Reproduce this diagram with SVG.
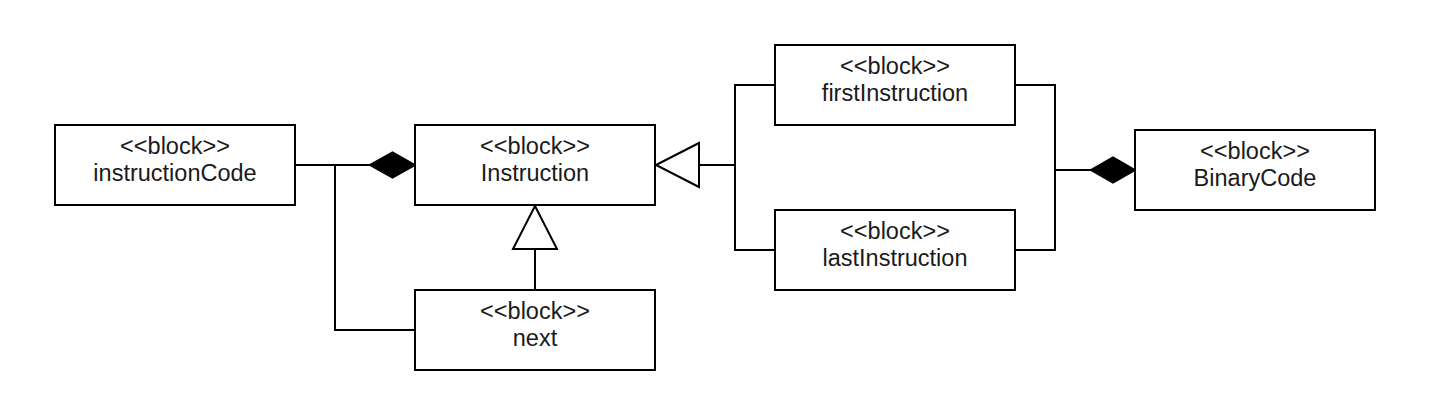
<svg xmlns="http://www.w3.org/2000/svg" width="1435" height="413" viewBox="0 0 1435 413">
<style>
.box{fill:#fff;stroke:#000;stroke-width:2}
.t{font-family:"Liberation Sans",Arial,sans-serif;font-size:23.5px;fill:#1a1a1a;text-anchor:middle}
.c{fill:none;stroke:#000;stroke-width:2}
.dia{fill:#000;stroke:#000;stroke-width:2;stroke-linejoin:miter}
.tri{fill:#fff;stroke:#000;stroke-width:2}
</style>
<rect width="1435" height="413" fill="#fff"/>
<g id="connectors">
<path class="c" d="M295,165 H370"/>
<path class="c" d="M415,330 H335 V165"/>
<path class="c" d="M535,290 V249"/>
<path class="c" d="M775,85 H735 V165 H699"/>
<path class="c" d="M775,250 H735 V165"/>
<path class="c" d="M1015,85 H1055 V170 H1091"/>
<path class="c" d="M1015,250 H1055 V170"/>
<polygon class="dia" points="415,165 392.5,152.5 370,165 392.5,177.5"/>
<polygon class="dia" points="1135,170 1113,157.5 1091,170 1113,182.5"/>
<polygon class="tri" points="535,206 557,249 513,249"/>
<polygon class="tri" points="656,165 699,143 699,187"/>
</g>
<g id="instructionCode">
<rect class="box" x="55" y="125" width="240" height="80"/>
<text class="t" x="175" y="154">&lt;&lt;block&gt;&gt;</text>
<text class="t" x="175" y="181">instructionCode</text>
</g>
<g id="Instruction">
<rect class="box" x="415" y="125" width="240" height="80"/>
<text class="t" x="535" y="154">&lt;&lt;block&gt;&gt;</text>
<text class="t" x="535" y="181">Instruction</text>
</g>
<g id="next">
<rect class="box" x="415" y="290" width="240" height="80"/>
<text class="t" x="535" y="319">&lt;&lt;block&gt;&gt;</text>
<text class="t" x="535" y="346">next</text>
</g>
<g id="firstInstruction">
<rect class="box" x="775" y="45" width="240" height="80"/>
<text class="t" x="895" y="74">&lt;&lt;block&gt;&gt;</text>
<text class="t" x="895" y="101">firstInstruction</text>
</g>
<g id="lastInstruction">
<rect class="box" x="775" y="210" width="240" height="80"/>
<text class="t" x="895" y="239">&lt;&lt;block&gt;&gt;</text>
<text class="t" x="895" y="266">lastInstruction</text>
</g>
<g id="BinaryCode">
<rect class="box" x="1135" y="130" width="240" height="80"/>
<text class="t" x="1255" y="159">&lt;&lt;block&gt;&gt;</text>
<text class="t" x="1255" y="186">BinaryCode</text>
</g>
</svg>
